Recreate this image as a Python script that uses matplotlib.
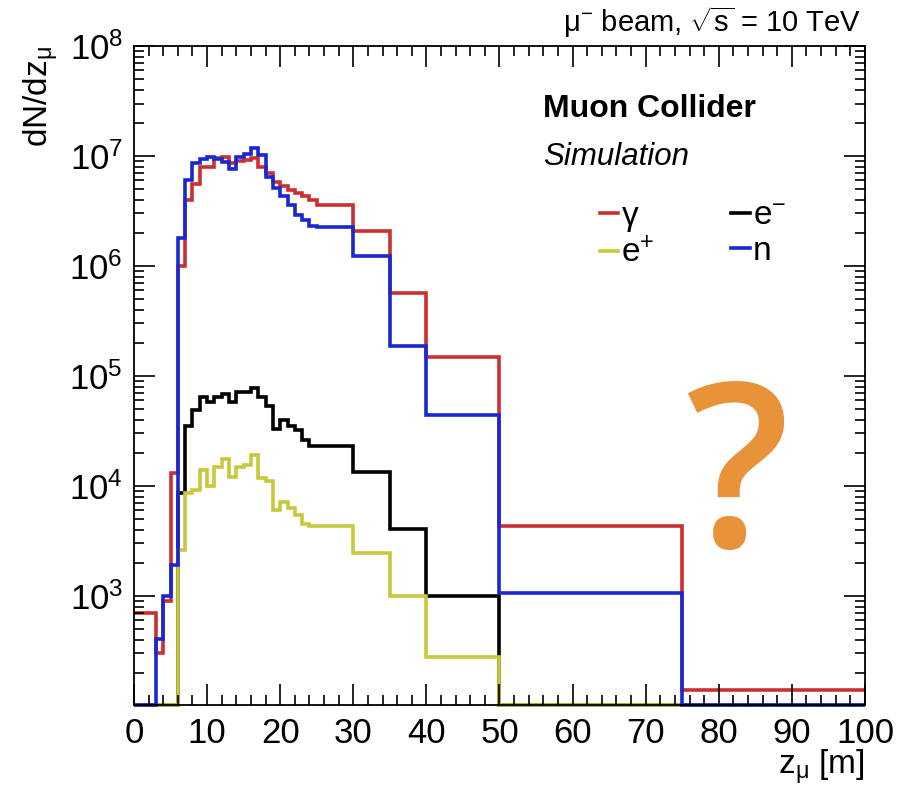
import matplotlib
matplotlib.use('Agg')
import matplotlib.pyplot as plt
import matplotlib.ticker as mticker
import numpy as np

plt.rcParams['font.family'] = ['Liberation Sans', 'DejaVu Sans']
plt.rcParams['mathtext.fontset'] = 'custom'
plt.rcParams['mathtext.rm'] = 'Liberation Sans'
plt.rcParams['mathtext.it'] = 'Liberation Sans:italic'
plt.rcParams['mathtext.bf'] = 'Liberation Sans:bold'
plt.rcParams['mathtext.default'] = 'regular'

# bin edges in z [m]: 1 m bins up to 25 m, then wider bins
edges = list(range(0, 26)) + [30, 35, 40, 50, 75, 100]

gamma = [700, 700, 700, 300, 900, 1.3e4, 1.0e6, 4.0e6, 5.6e6, 7.9e6,
         8.0e6, 9.5e6, 9.8e6, 8.6e6, 9.0e6, 9.2e6, 9.6e6, 8.0e6, 7.0e6, 5.8e6,
         5.3e6, 4.9e6, 4.6e6, 4.3e6, 4.0e6, 3.6e6, 2.1e6, 5.7e5, 1.5e5, 4.3e3, 140]
neutron = [0, 0, 0, 410, 1000, 1900, 1.8e6, 6.0e6, 8.7e6, 9.4e6,
           9.7e6, 9.4e6, 8.9e6, 7.6e6, 9.8e6, 1.05e7, 1.17e7, 1.02e7, 6.5e6, 5.1e6,
           4.3e6, 3.6e6, 2.9e6, 2.6e6, 2.3e6, 2.27e6, 1.23e6, 1.87e5, 4.4e4, 1.07e3, 0]
electron = [0, 0, 0, 0, 0, 0, 8.6e3, 3.5e4, 4.9e4, 6.5e4,
            5.8e4, 6.5e4, 6.9e4, 5.8e4, 7.2e4, 7.2e4, 7.7e4, 6.5e4, 5.3e4, 3.3e4,
            4.0e4, 3.5e4, 3.2e4, 2.6e4, 2.3e4, 2.3e4, 1.35e4, 4.1e3, 1.0e3, 0, 0]
positron = [0, 0, 0, 0, 0, 0, 2.6e3, 8.6e3, 9.1e3, 1.4e4,
            1.0e4, 1.5e4, 1.75e4, 1.2e4, 1.5e4, 1.55e4, 1.9e4, 1.17e4, 1.1e4, 6.0e3,
            7.2e3, 6.3e3, 5.5e3, 4.5e3, 4.3e3, 4.3e3, 2.45e3, 1.0e3, 2.8e2, 0, 0]

ymin, ymax = 1.02e2, 1e8

fig = plt.figure(figsize=(9.08, 7.89), dpi=100)
ax = fig.add_axes([0.1476, 0.1065, 0.805, 0.8352])

series = [(gamma, '#cc2f2f', r'$\gamma$'),
          (electron, '#000000', r'e$^{-}$'),
          (positron, '#c8c83c', r'e$^{+}$'),
          (neutron, '#1a28cf', 'n')]
handles = {}
for vals, col, lab in series:
    v = np.array(vals, dtype=float)
    v = np.where(v > 0, v, ymin)  # empty bins sit on the axis like in ROOT
    h = ax.stairs(v, edges, baseline=None, color=col, lw=2.6, clip_on=False, label=lab)
    handles[lab] = h

ax.set_yscale('log')
ax.set_xlim(0, 100)
ax.set_ylim(ymin, ymax)

ax.xaxis.set_major_locator(mticker.MultipleLocator(10))
ax.xaxis.set_minor_locator(mticker.MultipleLocator(2))
ax.yaxis.set_major_locator(mticker.LogLocator(base=10, numticks=20))
ax.yaxis.set_minor_locator(mticker.LogLocator(base=10, subs=np.arange(2, 10), numticks=20))
ax.yaxis.set_minor_formatter(mticker.NullFormatter())
ax.yaxis.set_major_formatter(mticker.FuncFormatter(
    lambda y, p: r'$10^{%d}$' % round(np.log10(y)) if y >= 999 else ''))

ax.tick_params(which='both', direction='in', top=True, right=True, labelsize=25, width=1.2)
ax.tick_params(which='major', length=15)
ax.tick_params(which='minor', length=7.5)
ax.tick_params(axis='x', pad=9)
ax.tick_params(axis='y', pad=8)
for s in ax.spines.values():
    s.set_linewidth(1.3)

ax.set_xlabel(r'z$_{\mu}$ [m]', fontsize=24, loc='right', labelpad=-2)
ax.set_ylabel(r'dN/dz$_{\mu}$', fontsize=24, loc='top', labelpad=6)

fig.text(0.948, 0.972, r'$\mu^{-}$ beam, $\sqrt{s}$ = 10 TeV', fontsize=21,
         ha='right', va='center')
ax.text(0.560, 0.905, 'Muon Collider', fontsize=23, fontweight='bold',
        transform=ax.transAxes, va='center')
ax.text(0.560, 0.832, 'Simulation', fontsize=22.5, style='italic',
        transform=ax.transAxes, va='center')

order = [r'$\gamma$', r'e$^{+}$', r'e$^{-}$', 'n']
leg = ax.legend([handles[k] for k in order], order, ncol=2, fontsize=24,
                frameon=False, loc='upper left', bbox_to_anchor=(0.605, 0.80),
                handlelength=0.55, handletextpad=0.1, columnspacing=2.3,
                labelspacing=0.12, borderpad=0.2)

ax.text(0.825, 0.33, '?', fontsize=165, color='#e8923a', ha='center', va='center',
        transform=ax.transAxes, family='Open Sans', fontweight='semibold')

fig.savefig('out.png', dpi=100)
